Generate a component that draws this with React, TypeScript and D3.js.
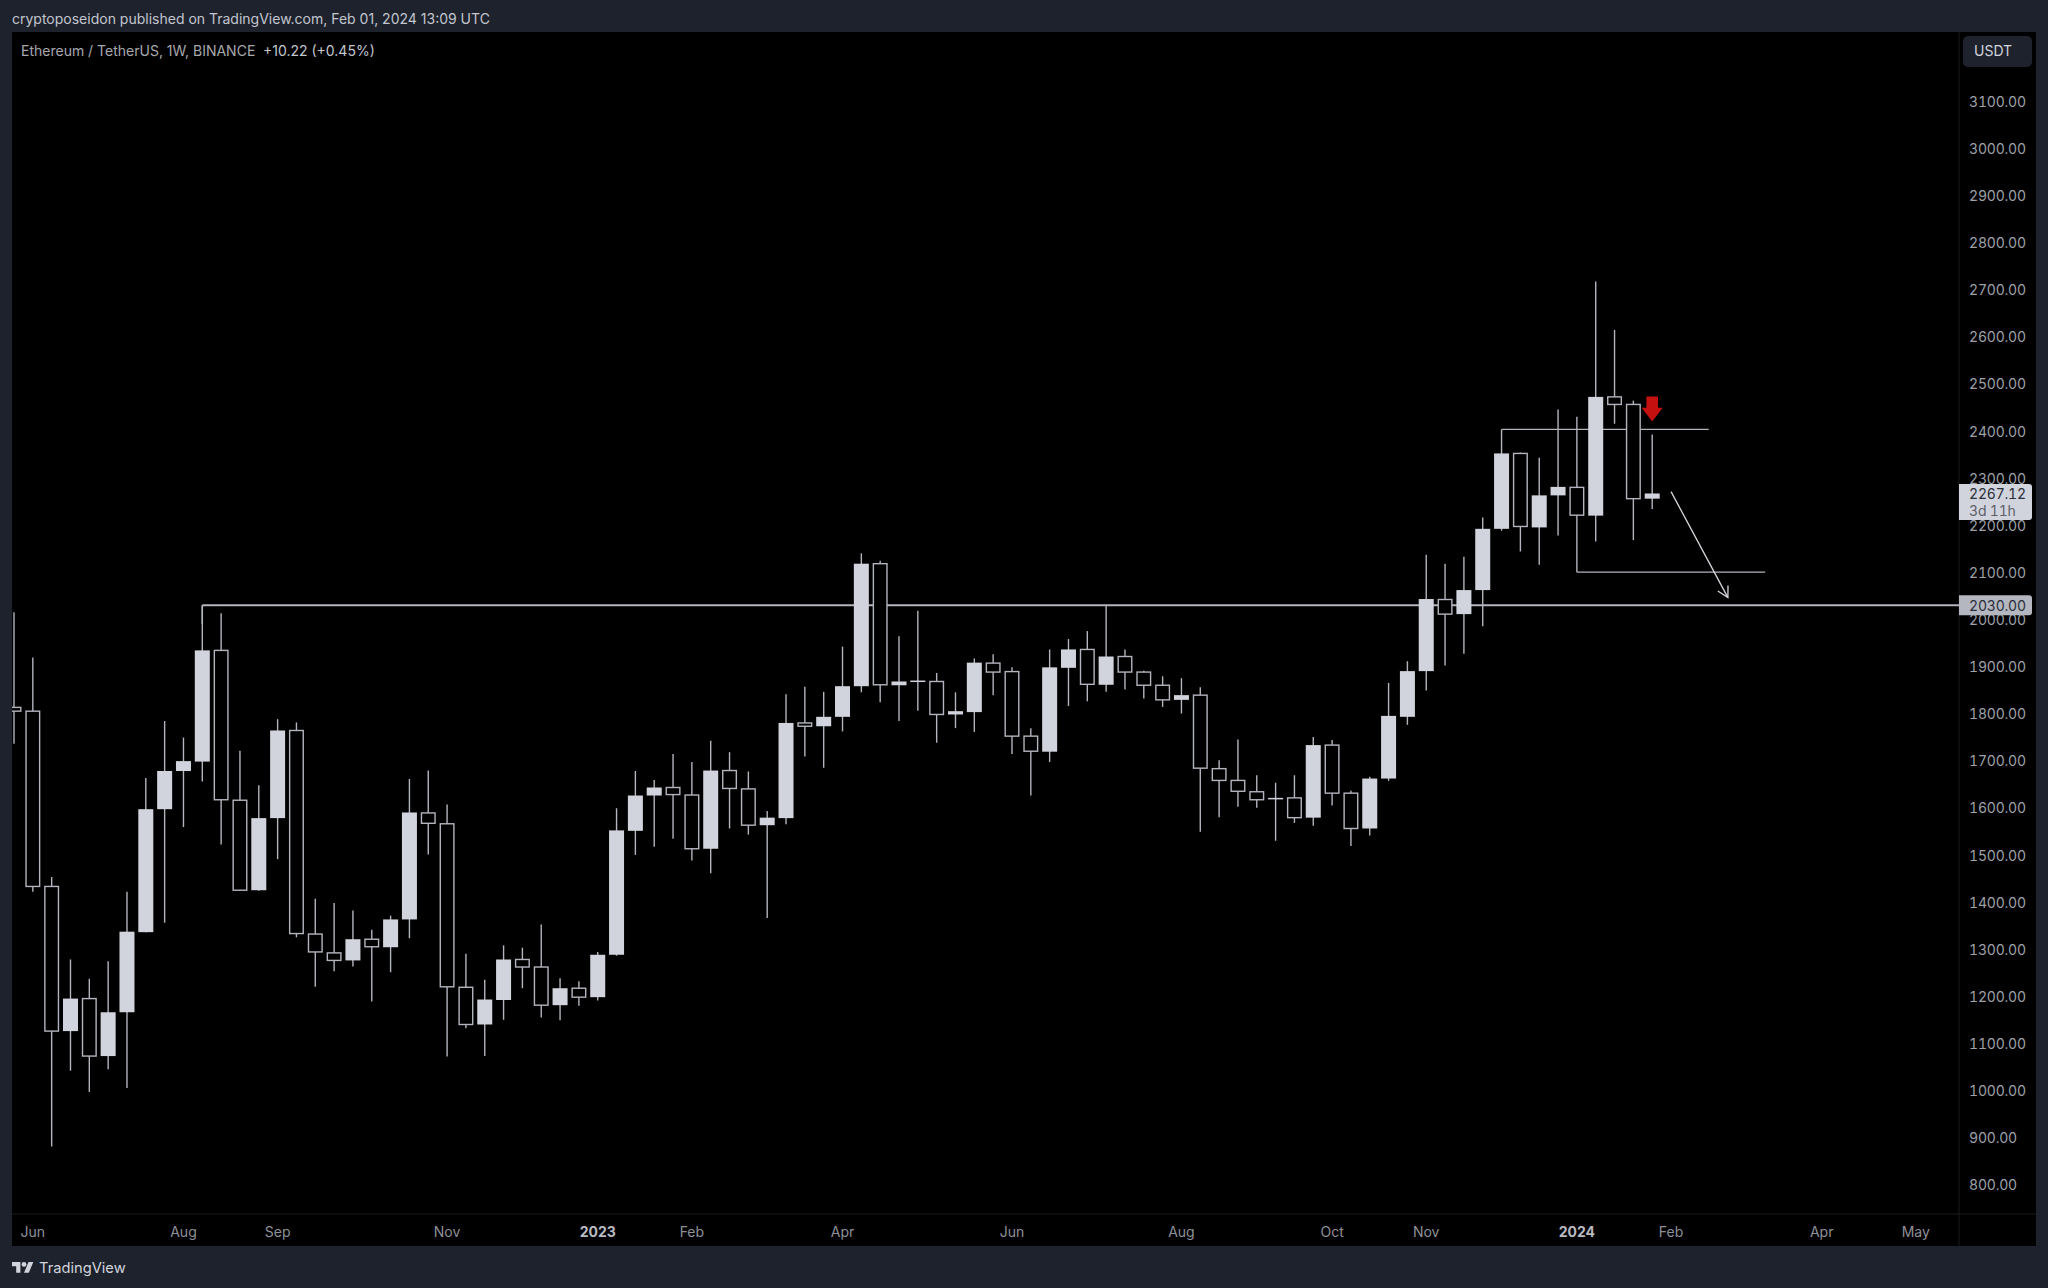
import React from "react";
import * as d3 from "d3";

const opens = [1813,1805,1433,1126,1195,1073,1166,1336,1597,1678,1698,1934,1616,1425,1578,1764,1332,1292,1276,1321,1304,1363,1589,1566,1219,1140,1192,1278,1262,1181,1217,1198,1288,1551,1626,1643,1627,1513,1679,1640,1563,1578,1780,1773,1793,1858,2118,1860,1868,1868,1798,1803,1907,1889,1752,1719,1897,1936,1861,1921,1888,1860,1829,1839,1683,1658,1634,1618,1621,1579,1733,1631,1556,1662,1793,1890,2042,2011,2062,2192,2352,2195,2263,2280,2220,2472,2456,2256];
const highs = [2015,1919,1453,1278,1237,1274,1422,1663,1784,1749,2030,2013,1721,1648,1788,1781,1407,1398,1382,1341,1371,1661,1679,1607,1290,1235,1308,1303,1352,1238,1232,1294,1599,1678,1659,1714,1697,1742,1718,1677,1593,1841,1857,1846,1942,2140,2124,1964,2018,1886,1845,1917,1926,1898,1769,1936,1958,1975,2030,1936,1891,1879,1875,1856,1701,1745,1669,1653,1669,1750,1744,1636,1666,1865,1911,2137,2118,2133,2216,2403,2354,2343,2445,2430,2717,2614,2464,2392];
const lows = [1736,1422,881,1042,997,1045,1005,1336,1356,1559,1656,1522,1424,1424,1491,1325,1220,1253,1263,1189,1251,1323,1501,1072,1132,1073,1150,1217,1155,1149,1180,1191,1286,1500,1517,1534,1488,1461,1556,1543,1366,1565,1709,1685,1762,1845,1824,1784,1806,1738,1769,1761,1839,1714,1626,1697,1816,1826,1846,1851,1832,1814,1800,1549,1580,1602,1600,1530,1568,1562,1605,1519,1541,1657,1776,1849,1902,1927,1985,2188,2144,2116,2178,2100,2165,2415,2168,2234];
const closes = [1805,1433,1126,1195,1073,1166,1337,1597,1678,1699,1934,1617,1425,1578,1764,1333,1294,1276,1321,1305,1363,1590,1567,1220,1140,1193,1278,1262,1181,1217,1198,1288,1552,1626,1643,1628,1513,1679,1641,1563,1579,1780,1773,1793,1858,2118,1861,1868,1870,1798,1805,1908,1888,1752,1720,1898,1936,1862,1921,1888,1860,1829,1839,1684,1658,1635,1617,1621,1579,1733,1631,1556,1662,1795,1890,2043,2011,2062,2192,2352,2197,2263,2281,2221,2472,2456,2256,2267];

const priceTicks = d3.range(800, 3200, 100);
const timeLabels = ["Jun","Aug","Sep","Nov","2023","Feb","Apr","Jun","Aug","Oct","Nov","2024","Feb","Apr","May"];
const timeLabelWeeks = [1,9,14,23,31,36,44,53,62,70,75,83,88,96,101];
const boldLabels = ["2023","2024"];

const supportLevel = 2030;
const supportStart = 10;
const upperLevel = 2403;
const upperSpan = [79, 90];
const lowerLevel = 2100;
const lowerSpan = [83, 93];
const projectionWeeks = [88, 91.02];
const projectionPrices = [2271, 2046];
const markerWeek = 87;
const markerPrices = [2473, 2420];
const lastPrice = "2267.12";
const countdown = "3d 11h";

const FONT = "Inter, 'Noto Sans', sans-serif";
const PANEL = "#1e222d";
const LIGHT = "#d1d4dc";
const GREY = "#b2b5be";
const PRICE_STYLE = { fontVariantNumeric: "tabular-nums", letterSpacing: "-0.2px" };

const x = d3.scaleLinear().domain([0, 87]).range([14, 1652.2]);
const y = d3.scaleLinear().domain([3100, 800]).range([101, 1184.7]);

const CHART = { left: 12, top: 32, right: 2036, bottom: 1246, axisX: 1959, axisY: 1214 };

export default function App() {
  const bodyW = 15;
  const lx = x(projectionWeeks[1]);
  const ly = y(projectionPrices[1]);
  const ang = Math.atan2(ly - y(projectionPrices[0]), lx - x(projectionWeeks[0]));
  const head = (a: number) => `${lx + 12 * Math.cos(ang + a)},${ly + 12 * Math.sin(ang + a)}`;
  const mx = x(markerWeek);
  const mTop = y(markerPrices[0]);
  const mTip = y(markerPrices[1]);
  const mNeck = mTop + (mTip - mTop) * 0.45;
  const line = d3.line();

  return (
    <svg width={2048} height={1288} viewBox="0 0 2048 1288" style={{ position: "absolute", left: 0, top: 0, display: "block" }} fontFamily={FONT}>
      <defs>
        <clipPath id="pane"><rect x={CHART.left} y={CHART.top} width={CHART.axisX - CHART.left} height={CHART.axisY - CHART.top} /></clipPath>
      </defs>
      <rect width={2048} height={1288} fill={PANEL} />
      <rect x={CHART.left} y={CHART.top} width={CHART.right - CHART.left} height={CHART.bottom - CHART.top} fill="#000" />
      <line x1={CHART.axisX} x2={CHART.axisX} y1={CHART.top} y2={CHART.bottom} stroke="#1a1a1a" />
      <line x1={CHART.left} x2={CHART.right} y1={CHART.axisY} y2={CHART.axisY} stroke="#1a1a1a" />

      <text x={12} y={23.5} fontSize={14} fill="#c3c6ce">cryptoposeidon published on TradingView.com, Feb 01, 2024 13:09 UTC</text>
      <text x={21} y={55.5} fontSize={14} fill="#a6a8ad">Ethereum / TetherUS, 1W, BINANCE</text>
      <text x={263} y={55.5} fontSize={14} fill="#c3c6ce">+10.22 (+0.45%)</text>

      <g clipPath="url(#pane)">
        <path d={line([[x(supportStart), y(supportLevel)], [CHART.axisX, y(supportLevel)]])!} stroke={GREY} strokeWidth={2} fill="none" />
        <path d={line([[x(supportStart), y(supportLevel)], [x(supportStart), y(1990)]])!} stroke={GREY} strokeWidth={1.5} fill="none" />
        <path d={line([[x(upperSpan[0]), y(upperLevel)], [x(upperSpan[1]), y(upperLevel)]])!} stroke={GREY} strokeWidth={1.3} fill="none" />
        <path d={line([[x(lowerSpan[0]), y(lowerLevel)], [x(lowerSpan[1]), y(lowerLevel)]])!} stroke={GREY} strokeWidth={1.3} fill="none" />

        {opens.map((o, i) => {
          const c = closes[i];
          const up = c >= o;
          const top = y(Math.max(o, c));
          const bot = y(Math.min(o, c));
          const cx = x(i);
          return (
            <g key={i}>
              <line x1={cx} x2={cx} y1={y(highs[i])} y2={y(lows[i])} stroke={GREY} strokeWidth={1.4} />
              {up ? (
                <rect x={cx - bodyW / 2} y={top} width={bodyW} height={Math.max(bot - top, 1.5)} fill={LIGHT} />
              ) : (
                <rect x={cx - bodyW / 2 + 0.7} y={top} width={bodyW - 1.4} height={Math.max(bot - top, 1.5)} fill="#000" stroke={GREY} strokeWidth={1.4} />
              )}
            </g>
          );
        })}

        <path d={line([[x(projectionWeeks[0]), y(projectionPrices[0])], [lx, ly]])!} stroke="#d6d8de" strokeWidth={1.3} fill="none" />
        <polyline points={`${head(Math.PI - 0.5)} ${lx},${ly} ${head(Math.PI + 0.5)}`} stroke="#d6d8de" strokeWidth={1.3} fill="none" />
        <polygon
          points={`${mx - 5.8},${mTop} ${mx + 5.8},${mTop} ${mx + 5.8},${mNeck} ${mx + 10.5},${mNeck} ${mx},${mTip} ${mx - 10.5},${mNeck} ${mx - 5.8},${mNeck}`}
          fill="#c4100f"
        />
      </g>

      {priceTicks.map((p) => (
        <text key={p} x={1969} y={y(p) + 5.7} fontSize={14} fill="#9ea1a8" style={PRICE_STYLE}>{p.toFixed(2)}</text>
      ))}

      <path d={`M${CHART.axisX},${y(2030) - 10}H2029a3,3 0 0 1 3,3V${y(2030) + 7}a3,3 0 0 1 -3,3H${CHART.axisX}Z`} fill="#b4b7bf" />
      <text x={1969} y={y(2030) + 5.5} fontSize={14} fill="#2a2e39" style={PRICE_STYLE}>{supportLevel.toFixed(2)}</text>

      <path d={`M${CHART.axisX},484H2029a3,3 0 0 1 3,3V517a3,3 0 0 1 -3,3H${CHART.axisX}Z`} fill={LIGHT} />
      <text x={1969} y={499} fontSize={14} fill="#2a2e39" style={PRICE_STYLE}>{lastPrice}</text>
      <text x={1969} y={515.5} fontSize={14} fill="#5d606b" style={PRICE_STYLE}>{countdown}</text>

      <rect x={1963} y={36} width={69} height={31} rx={5} fill={PANEL} />
      <text x={1974} y={56} fontSize={14} fill="#d1d4dc">USDT</text>

      {timeLabels.map((t, i) => (
        <text key={i} x={x(timeLabelWeeks[i])} y={1237} fontSize={14} textAnchor="middle"
          fontWeight={boldLabels.includes(t) ? 700 : 400} fill={boldLabels.includes(t) ? "#b8bbc2" : "#8e9199"}>{t}</text>
      ))}

      <g transform="translate(12,1259.6) scale(0.6)" fill="#d1d4dc">
        <path d="M14 22H7V11H0V4h14v18zM28 22h-8l7.5-18h8L28 22z" />
        <circle cx={20} cy={8} r={4} />
      </g>
      <text x={39} y={1273} fontSize={14.7} fill="#d1d4dc">TradingView</text>
    </svg>
  );
}
